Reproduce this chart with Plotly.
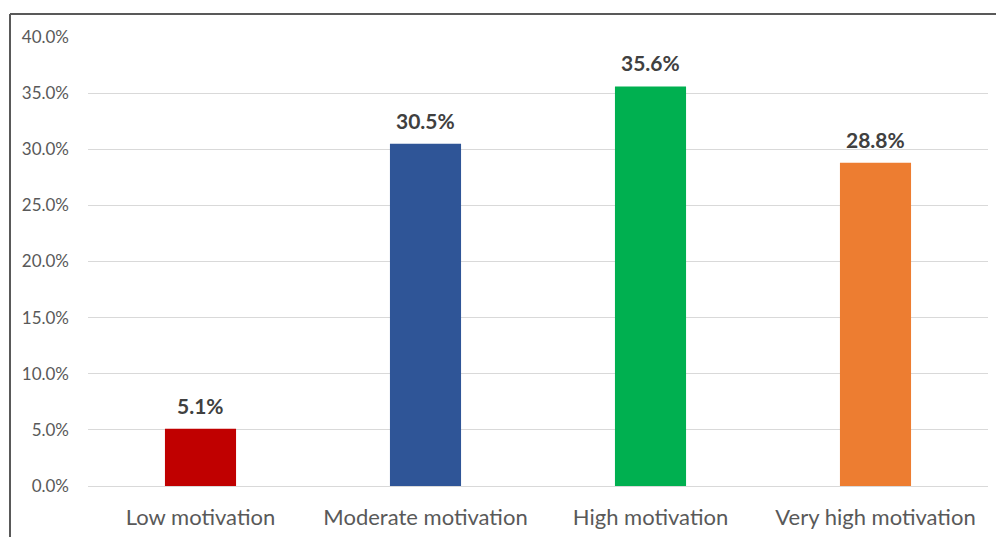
import plotly.graph_objects as go

categories = ["Low motivation", "Moderate motivation", "High motivation", "Very high motivation"]
values = [5.1, 30.5, 35.6, 28.8]
colors = ["#C00000", "#2F5597", "#00B050", "#ED7D31"]
y_ticks = [0, 5, 10, 15, 20, 25, 30, 35, 40]
y_tick_labels = [f"{v:.1f}%" for v in y_ticks]

W, H = 996, 537
ml, mr, mt, mb = 88, 8, 37, 51
pw, ph = W - ml - mr, H - mt - mb

def px_x(x):
    return (x - ml) / pw

def px_y(y):
    return (H - mb - y) / ph

FONT = "Lato, Open Sans, sans-serif"

fig = go.Figure(go.Bar(
    x=categories, y=values,
    marker=dict(color=colors, line=dict(width=0)),
    width=0.316,
    hoverinfo="x+y",
))

for c, v in zip(categories, values):
    fig.add_annotation(x=c, y=v, text=f"{v:.1f}%", showarrow=False,
                       yanchor="bottom", yshift=9,
                       font=dict(family=FONT, size=21, color="#404040", weight="bold"))

fig.update_layout(
    width=W, height=H,
    margin=dict(l=ml, r=mr, t=mt, b=mb),
    paper_bgcolor="white", plot_bgcolor="white",
    showlegend=False,
    xaxis=dict(showgrid=False, showline=False, ticks="", zeroline=False,
               ticklabelstandoff=16,
               tickfont=dict(family=FONT, size=22, color="#595959")),
    yaxis=dict(range=[0, 40], tickvals=y_ticks, ticktext=y_tick_labels,
               showgrid=True, gridcolor="#D9D9D9", gridwidth=1,
               zeroline=True, zerolinecolor="#D9D9D9", zerolinewidth=1,
               showline=False, ticks="", ticklabelstandoff=18,
               tickfont=dict(family=FONT, size=17, color="#595959")),
    shapes=[
        dict(type="line", xref="paper", yref="paper", x0=px_x(10), x1=px_x(996), y0=px_y(14), y1=px_y(14),
             line=dict(color="#595959", width=2)),
        dict(type="line", xref="paper", yref="paper", x0=px_x(10), x1=px_x(10), y0=px_y(14), y1=px_y(537),
             line=dict(color="#595959", width=2)),
    ],
)

fig.write_html("out.html")
